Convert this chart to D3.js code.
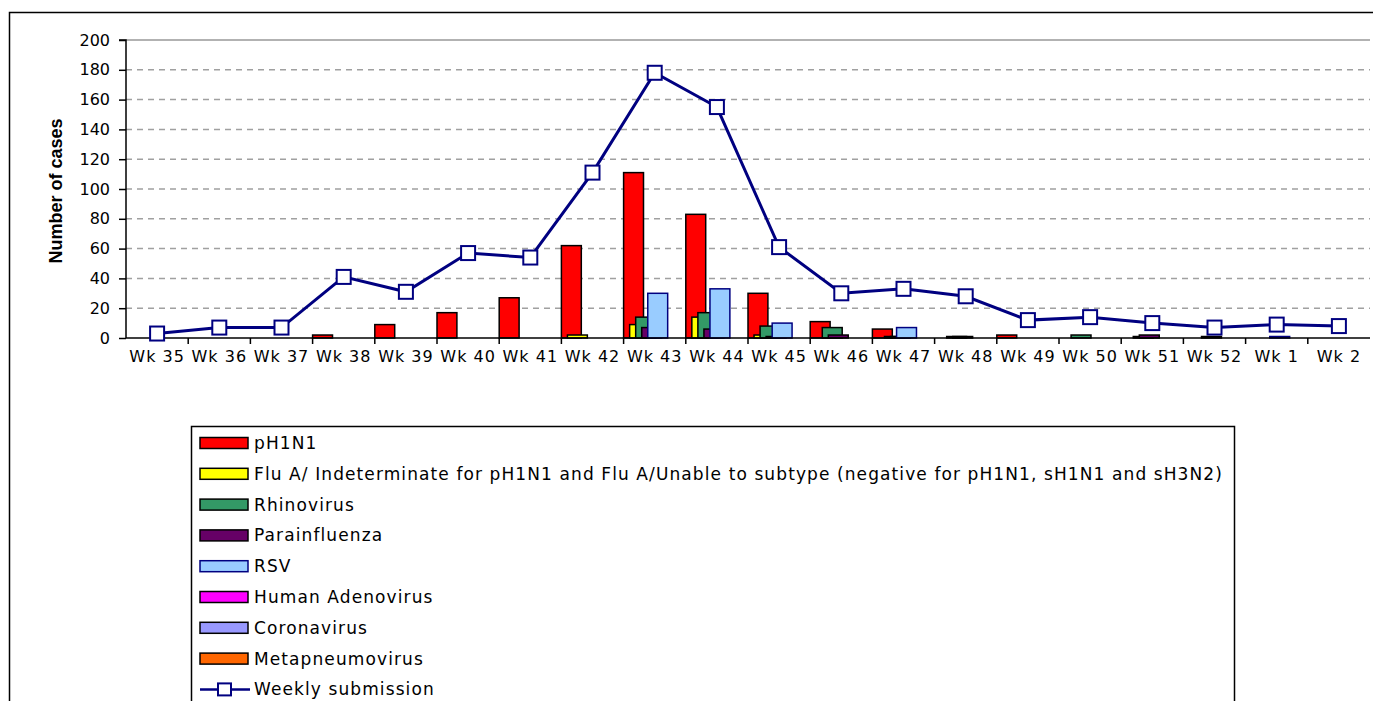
<!DOCTYPE html>
<html>
<head>
  <meta charset="UTF-8">
  <title>Weekly cases</title>
  <script src="https://cdnjs.cloudflare.com/ajax/libs/d3/7.8.5/d3.min.js"></script>
  <style>
    body { margin: 0; background: #fff; }
    .tick-label { font: 16px "DejaVu Sans", sans-serif; fill: #000; }
    .x-label { letter-spacing: 1px; }
    .legend-text { font: 17px "DejaVu Sans", sans-serif; fill: #000; letter-spacing: 1.1px; }
    .axis-title { font: bold 18px "Liberation Sans", Arial, sans-serif; }
  </style>
</head>
<body>
<script>
    // Data
    const weeks = ["Wk 35", "Wk 36", "Wk 37", "Wk 38", "Wk 39", "Wk 40", "Wk 41", "Wk 42", "Wk 43", "Wk 44",
                   "Wk 45", "Wk 46", "Wk 47", "Wk 48", "Wk 49", "Wk 50", "Wk 51", "Wk 52", "Wk 1", "Wk 2"];
    const pH1N1      = [0, 0, 0, 2, 9, 17, 27, 62, 111, 83, 30, 11, 6, 0, 2, 0, 0, 0, 0, 0];
    const fluA       = [0, 0, 0, 0, 0, 0, 0, 2, 9, 14, 2, 0, 0, 0, 0, 0, 0, 0, 0, 0];
    const rhino      = [0, 0, 0, 0, 0, 0, 0, 0, 14, 17, 8, 7, 1, 1, 0, 2, 1, 0, 0, 0];
    const parainf    = [0, 0, 0, 0, 0, 0, 0, 0, 7, 6, 1, 2, 1, 1, 0, 0, 2, 1, 0, 0];
    const rsv        = [0, 0, 0, 0, 0, 0, 0, 0, 30, 33, 10, 0, 7, 0, 0, 0, 0, 0, 1, 0];
    const adeno      = [0, 0, 0, 0, 0, 0, 0, 0, 0, 0, 0, 0, 0, 0, 0, 0, 0, 0, 0, 0];
    const corona     = [0, 0, 0, 0, 0, 0, 0, 0, 0, 0, 0, 0, 0, 0, 0, 0, 0, 0, 0, 0];
    const metapneumo = [0, 0, 0, 0, 0, 0, 0, 0, 0, 0, 0, 0, 0, 0, 0, 0, 0, 0, 0, 0];
    const weekly     = [3, 7, 7, 41, 31, 57, 54, 111, 178, 155, 61, 30, 33, 28, 12, 14, 10, 7, 9, 8];
    const yTicks = [0, 20, 40, 60, 80, 100, 120, 140, 160, 180, 200];

    const series = [
      {name: "pH1N1", values: pH1N1, fill: "#ff0000", stroke: "#000"},
      {name: "Flu A/ Indeterminate for pH1N1 and Flu A/Unable to subtype (negative for pH1N1, sH1N1 and sH3N2)", values: fluA, fill: "#ffff00", stroke: "#000"},
      {name: "Rhinovirus", values: rhino, fill: "#339966", stroke: "#000"},
      {name: "Parainfluenza", values: parainf, fill: "#660066", stroke: "#000"},
      {name: "RSV", values: rsv, fill: "#99ccff", stroke: "#000080"},
      {name: "Human Adenovirus", values: adeno, fill: "#ff00ff", stroke: "#000"},
      {name: "Coronavirus", values: corona, fill: "#9999ff", stroke: "#000"},
      {name: "Metapneumovirus", values: metapneumo, fill: "#ff6600", stroke: "#000"}
    ];

    const W = 1373, H = 701;
    const plotLeft = 126, plotRight = 1370, plotTop = 40, plotBottom = 338;

    const svg = d3.select("body").append("svg")
      .attr("width", W)
      .attr("height", H);

    // outer chart border
    svg.append("rect")
      .attr("x", 9.5).attr("y", 12.5)
      .attr("width", 1400).attr("height", 720)
      .attr("fill", "#fff").attr("stroke", "#000").attr("stroke-width", 1.5);

    // Scales
    const x = d3.scaleBand().domain(weeks).range([plotLeft, plotRight]).padding(0);
    const y = d3.scaleLinear().domain([0, 200]).range([plotBottom, plotTop]);
    const barW = x.bandwidth() * 0.32;
    const xs = d3.scalePoint().domain(series.map(s => s.name)).range([0, x.bandwidth() - barW]);

    // gridlines
    svg.append("g").selectAll("line")
      .data(yTicks.filter(t => t > 0 && t < 200))
      .enter().append("line")
      .attr("x1", plotLeft).attr("x2", plotRight)
      .attr("y1", d => y(d)).attr("y2", d => y(d))
      .attr("stroke", "#a0a0a0").attr("stroke-width", 1.5)
      .attr("stroke-dasharray", "6,5");
    svg.append("line")
      .attr("x1", plotLeft).attr("x2", plotRight)
      .attr("y1", y(200)).attr("y2", y(200))
      .attr("stroke", "#999").attr("stroke-width", 1.5);

    // Bars
    series.forEach(s => {
      svg.append("g").selectAll("rect")
        .data(s.values.map((v, i) => ({week: weeks[i], value: v})).filter(d => d.value > 0))
        .enter().append("rect")
        .attr("x", d => x(d.week) + xs(s.name))
        .attr("y", d => y(d.value))
        .attr("width", barW)
        .attr("height", d => y(0) - y(d.value))
        .attr("fill", s.fill)
        .attr("stroke", s.stroke)
        .attr("stroke-width", 1.5);
    });

    // Axes
    const yAxis = svg.append("g")
      .attr("transform", `translate(${plotLeft},0)`)
      .call(d3.axisLeft(y).tickValues(yTicks).tickSize(7).tickPadding(9));
    yAxis.selectAll("text").attr("class", "tick-label").attr("font-family", null).attr("font-size", null);
    yAxis.selectAll("line, path").attr("stroke", "#000").attr("stroke-width", 1.5);
    yAxis.select(".domain").attr("d", `M-7,${plotTop}H0V${plotBottom}`);

    const xAxis = svg.append("g")
      .attr("transform", `translate(0,${plotBottom})`)
      .call(d3.axisBottom(x).tickSize(0).tickPadding(13));
    xAxis.selectAll("text").attr("class", "tick-label x-label").attr("font-family", null).attr("font-size", null);
    xAxis.select(".domain").attr("stroke", "#000").attr("stroke-width", 1.5).attr("d", `M${plotLeft},0H${plotRight}`);
    // tick marks sit between categories
    xAxis.append("g").selectAll("line")
      .data(weeks.slice(1))
      .enter().append("line")
      .attr("x1", d => x(d)).attr("x2", d => x(d))
      .attr("y1", 0).attr("y2", 6)
      .attr("stroke", "#000").attr("stroke-width", 1.5);

    // Weekly submission line
    const line = d3.line()
      .x((d, i) => x(weeks[i]) + x.bandwidth() / 2)
      .y(d => y(d));
    svg.append("path")
      .datum(weekly)
      .attr("d", line)
      .attr("fill", "none")
      .attr("stroke", "#000080")
      .attr("stroke-width", 3);
    svg.append("g").selectAll("rect")
      .data(weekly)
      .enter().append("rect")
      .attr("x", (d, i) => x(weeks[i]) + x.bandwidth() / 2 - 7)
      .attr("y", d => y(d) - 7)
      .attr("width", 14).attr("height", 14)
      .attr("fill", "#fff")
      .attr("stroke", "#000080").attr("stroke-width", 2);

    // Y axis title
    svg.append("text")
      .attr("class", "axis-title")
      .attr("transform", "translate(62,191) rotate(-90)")
      .attr("text-anchor", "middle")
      .text("Number of cases");

    // Legend
    const lg = svg.append("g");
    lg.append("rect")
      .attr("x", 191.5).attr("y", 426.5)
      .attr("width", 1043).attr("height", 300)
      .attr("fill", "#fff").attr("stroke", "#000").attr("stroke-width", 1.5);
    const rowY = i => 443 + i * 30.8;
    series.forEach((s, i) => {
      lg.append("rect")
        .attr("x", 200).attr("y", rowY(i) - 5.5)
        .attr("width", 48).attr("height", 11)
        .attr("fill", s.fill).attr("stroke", s.stroke).attr("stroke-width", 1.5);
      lg.append("text")
        .attr("class", "legend-text")
        .attr("x", 254).attr("y", rowY(i) + 6)
        .text(s.name);
    });
    const li = series.length;
    lg.append("line")
      .attr("x1", 200).attr("x2", 250)
      .attr("y1", rowY(li)).attr("y2", rowY(li))
      .attr("stroke", "#000080").attr("stroke-width", 2.5);
    lg.append("rect")
      .attr("x", 218).attr("y", rowY(li) - 6)
      .attr("width", 13).attr("height", 12)
      .attr("fill", "#fff").attr("stroke", "#000080").attr("stroke-width", 2);
    lg.append("text")
      .attr("class", "legend-text")
      .attr("x", 254).attr("y", rowY(li) + 6)
      .text("Weekly submission");
</script>
</body>
</html>
